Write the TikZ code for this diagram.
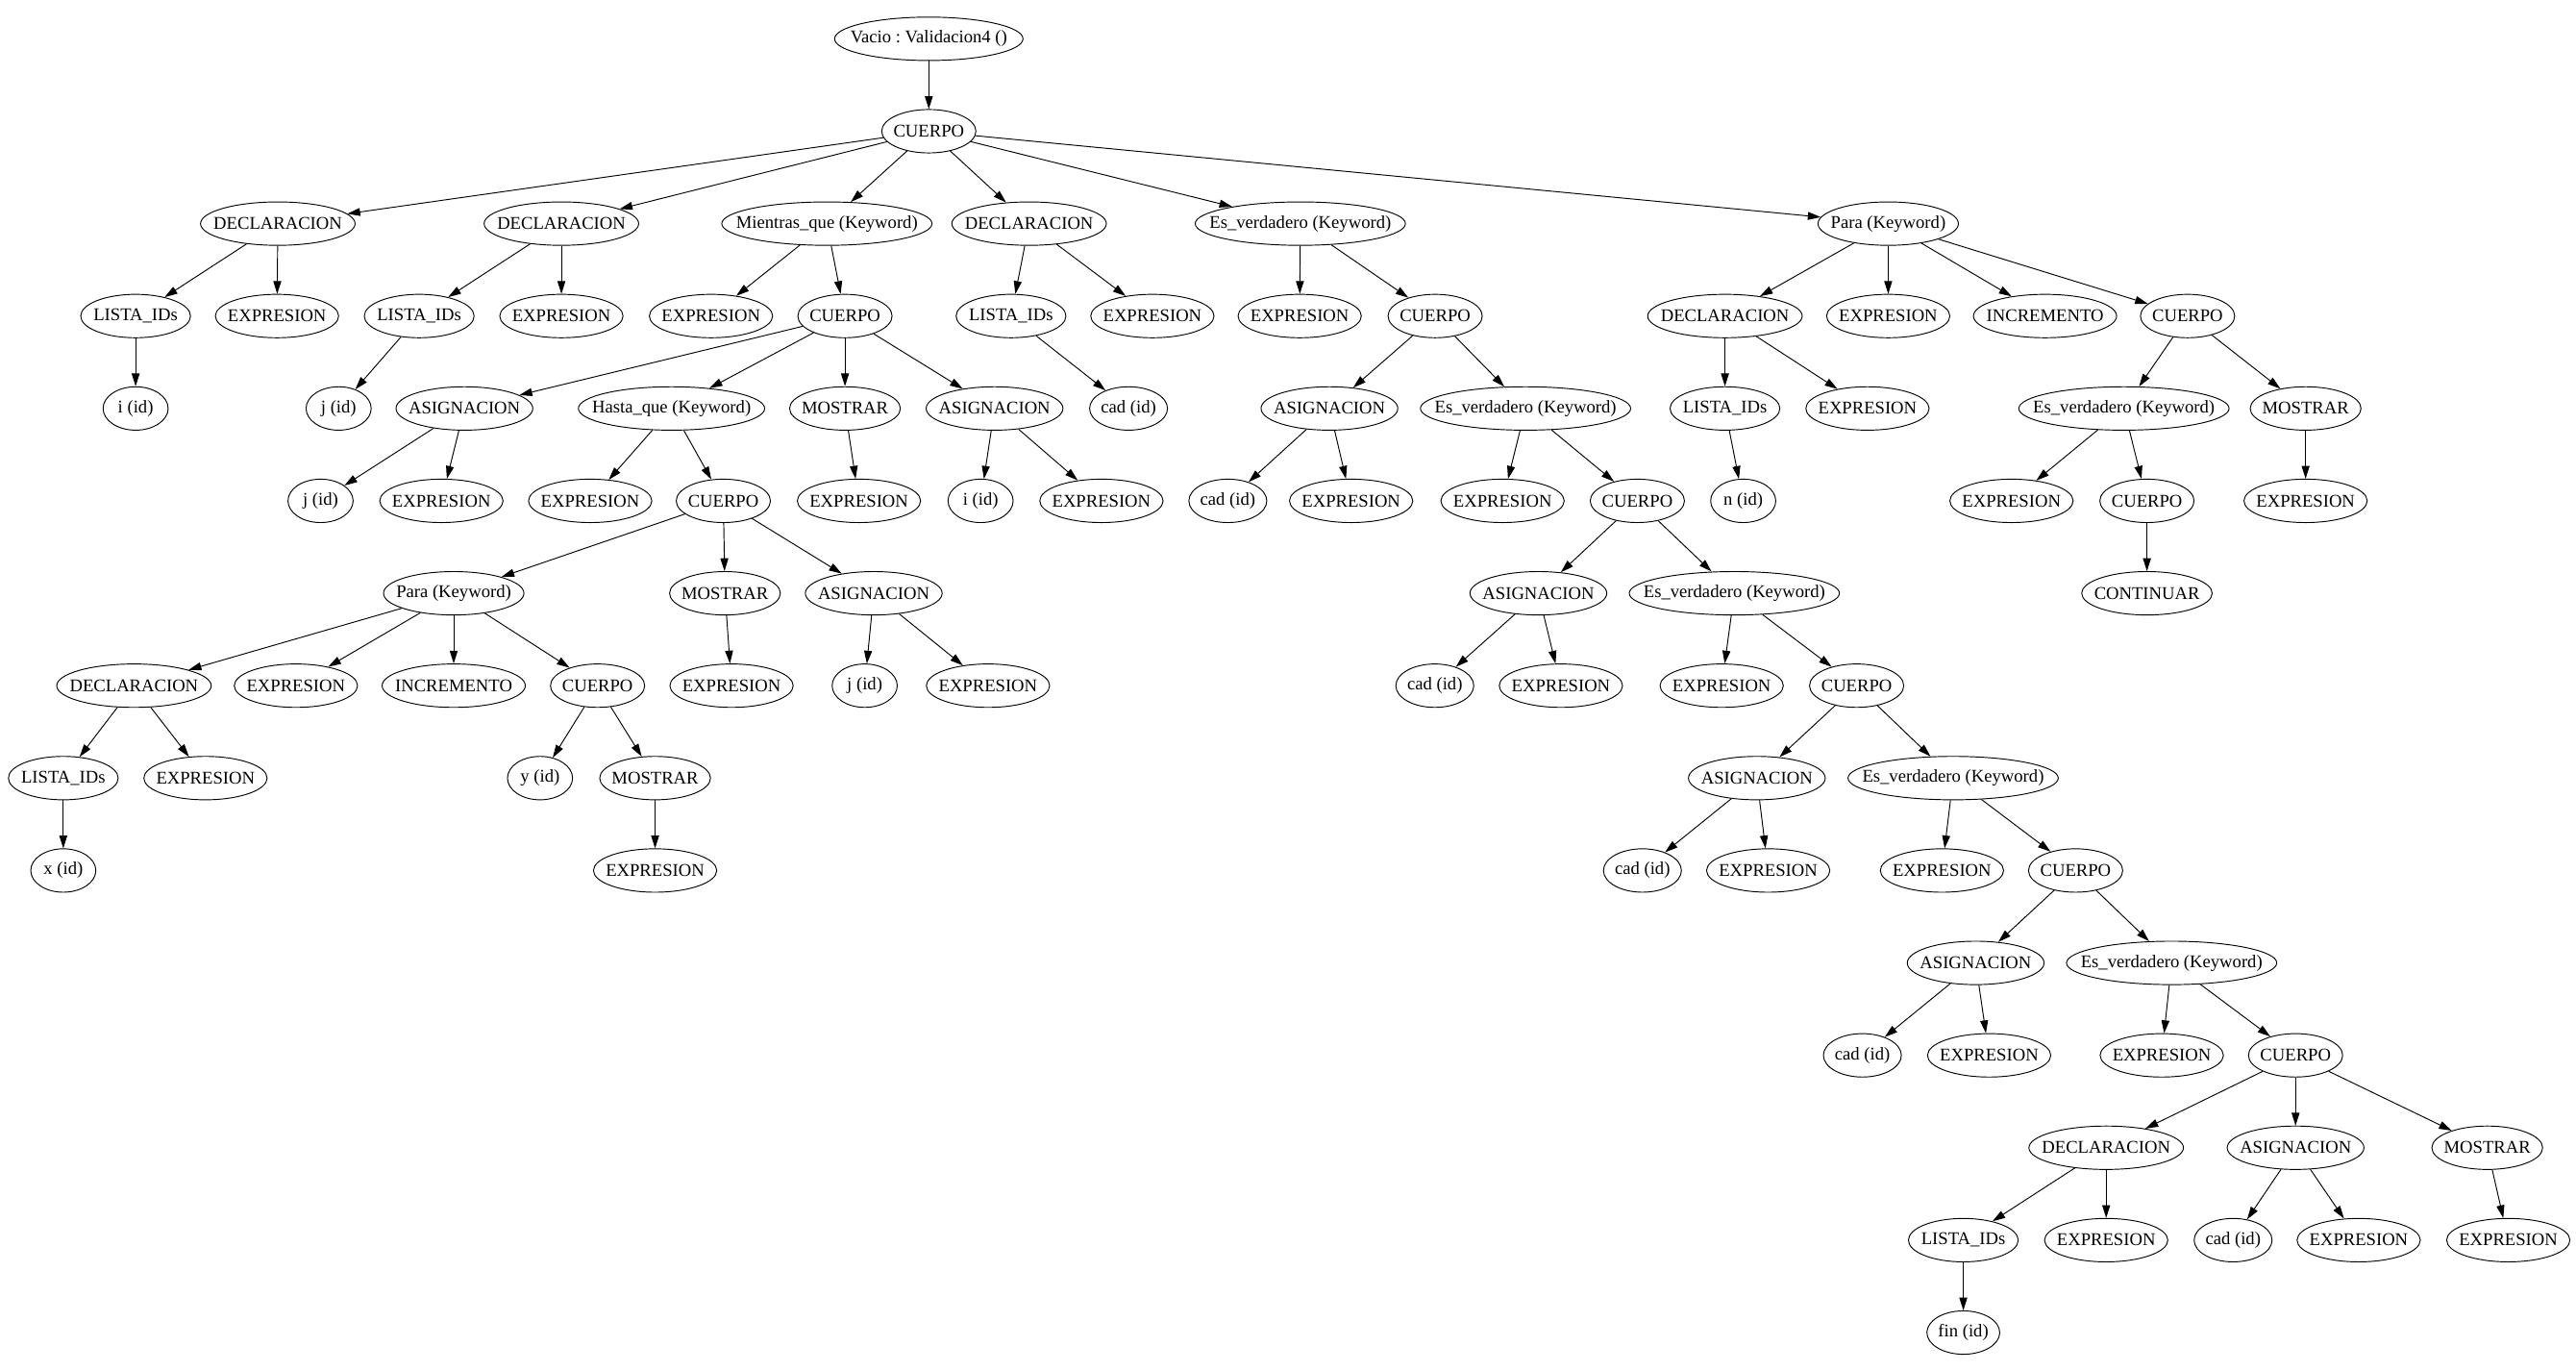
\documentclass[tikz,border=0pt]{standalone}
\usepackage{fontspec}
\setmainfont{Liberation Serif}
\usepackage{tikz}
\usetikzlibrary{arrows.meta,shapes.geometric}
\frenchspacing

\begin{document}
\begin{tikzpicture}[x=1pt,y=-1pt,line width=0.55pt,
  ast/.style={ellipse,draw,inner xsep=-40pt,inner ysep=0pt,minimum height=26.4pt,
    minimum width=#1,font=\fontsize{10.9}{12}\selectfont},
  ast/.default=75,
  edge/.style={-{Triangle[length=7.8pt,width=4.8pt]}}]
  \useasboundingbox (0,0) rectangle (1567,833.2);
  % levels 0-2
  \node[ast=114.6] (root) at (565,23.6) {Vacio : Validacion4 ()};
  \node[ast=57.3] (c0) at (565,79.8) {CUERPO};
  \node[ast=94] (d1) at (169,136) {DECLARACION};
  \node[ast=94] (d2) at (341.5,136) {DECLARACION};
  \node[ast=127.9] (m1) at (503,136) {Mientras\_que (Keyword)};
  \node[ast=94] (d3) at (626,136) {DECLARACION};
  \node[ast=127.9] (ev1) at (791,136) {Es\_verdadero (Keyword)};
  \node[ast=85.4] (p1) at (1148.6,136) {Para (Keyword)};
  % level 3
  \node[ast=66.8] (l1) at (82.5,192.2) {LISTA\_IDs};
  \node[ast] (e1) at (168.5,192.2) {EXPRESION};
  \node[ast=66.8] (l2) at (255,192.2) {LISTA\_IDs};
  \node[ast] (e2) at (341.5,192.2) {EXPRESION};
  \node[ast] (e3) at (432.5,192.2) {EXPRESION};
  \node[ast=57.3] (c1) at (514,192.2) {CUERPO};
  \node[ast=66.8] (l3) at (615,192.2) {LISTA\_IDs};
  \node[ast] (e4) at (701,192.2) {EXPRESION};
  \node[ast] (e5) at (790.6,192.2) {EXPRESION};
  \node[ast=57.3] (c2) at (873,192.2) {CUERPO};
  \node[ast=94] (d4) at (1049.3,192.2) {DECLARACION};
  \node[ast] (e6) at (1148.6,192.2) {EXPRESION};
  \node[ast=87.1] (inc1) at (1244,192.2) {INCREMENTO};
  \node[ast=57.3] (c3) at (1330.7,192.2) {CUERPO};
  % level 4
  \node[ast=39.6] (i1) at (82.5,248.4) {i (id)};
  \node[ast=39.6] (j1) at (206,248.4) {j (id)};
  \node[ast=83.2] (a1) at (282.5,248.4) {ASIGNACION};
  \node[ast=113.3] (h1) at (408.5,248.4) {Hasta\_que (Keyword)};
  \node[ast=67.4] (mo1) at (514,248.4) {MOSTRAR};
  \node[ast=83.2] (a2) at (605,248.4) {ASIGNACION};
  \node[ast=47.4] (cad1) at (686.5,248.4) {cad (id)};
  \node[ast=83.2] (a3) at (808.7,248.4) {ASIGNACION};
  \node[ast=127.9] (ev2) at (928,248.4) {Es\_verdadero (Keyword)};
  \node[ast=66.8] (l4) at (1049.3,248.4) {LISTA\_IDs};
  \node[ast] (e7) at (1136,248.4) {EXPRESION};
  \node[ast=127.9] (ev3) at (1292,248.4) {Es\_verdadero (Keyword)};
  \node[ast=67.4] (mo2) at (1402.5,248.4) {MOSTRAR};
  % level 5
  \node[ast=39.6] (j2) at (195,304.6) {j (id)};
  \node[ast] (e8) at (268.5,304.6) {EXPRESION};
  \node[ast] (e9) at (359,304.6) {EXPRESION};
  \node[ast=57.3] (c4) at (440,304.6) {CUERPO};
  \node[ast] (e10) at (522.5,304.6) {EXPRESION};
  \node[ast=39.6] (i2) at (596.5,304.6) {i (id)};
  \node[ast] (e11) at (670,304.6) {EXPRESION};
  \node[ast=47.4] (cad2) at (746.9,304.6) {cad (id)};
  \node[ast] (e12) at (821.9,304.6) {EXPRESION};
  \node[ast] (e13) at (914,304.6) {EXPRESION};
  \node[ast=57.3] (c5) at (996,304.6) {CUERPO};
  \node[ast=39.6] (n1) at (1060.4,304.6) {n (id)};
  \node[ast] (e14) at (1223.6,304.6) {EXPRESION};
  \node[ast=57.3] (c6) at (1306,304.6) {CUERPO};
  \node[ast] (e15) at (1402.5,304.6) {EXPRESION};
  % level 6
  \node[ast=85.4] (p2) at (276,360.8) {Para (Keyword)};
  \node[ast=67.4] (mo3) at (441,360.8) {MOSTRAR};
  \node[ast=83.2] (a4) at (531.5,360.8) {ASIGNACION};
  \node[ast=83.2] (a5) at (935.8,360.8) {ASIGNACION};
  \node[ast=127.9] (ev4) at (1055,360.8) {Es\_verdadero (Keyword)};
  \node[ast=79.4] (co1) at (1306,360.8) {CONTINUAR};
  % level 7
  \node[ast=94] (d5) at (81.5,417) {DECLARACION};
  \node[ast] (e16) at (180,417) {EXPRESION};
  \node[ast=87.1] (inc2) at (276,417) {INCREMENTO};
  \node[ast=57.3] (c7) at (363.5,417) {CUERPO};
  \node[ast] (e17) at (445,417) {EXPRESION};
  \node[ast=39.6] (j3) at (526,417) {j (id)};
  \node[ast] (e18) at (601,417) {EXPRESION};
  \node[ast=47.4] (cad3) at (872.8,417) {cad (id)};
  \node[ast] (e19) at (949.5,417) {EXPRESION};
  \node[ast] (e20) at (1047.3,417) {EXPRESION};
  \node[ast=57.3] (c8) at (1129.4,417) {CUERPO};
  % level 8
  \node[ast=66.8] (l5) at (38.5,473.2) {LISTA\_IDs};
  \node[ast] (e21) at (125,473.2) {EXPRESION};
  \node[ast=39.6] (y1) at (328.5,473.2) {y (id)};
  \node[ast=67.4] (mo4) at (398.5,473.2) {MOSTRAR};
  \node[ast=83.2] (a6) at (1068.7,473.2) {ASIGNACION};
  \node[ast=127.9] (ev5) at (1188.1,473.2) {Es\_verdadero (Keyword)};
  % level 9
  \node[ast=39.6] (x1) at (38.5,529.4) {x (id)};
  \node[ast] (e22) at (398.5,529.4) {EXPRESION};
  \node[ast=47.4] (cad4) at (999.1,529.4) {cad (id)};
  \node[ast] (e23) at (1075.6,529.4) {EXPRESION};
  \node[ast] (e24) at (1181.3,529.4) {EXPRESION};
  \node[ast=57.3] (c9) at (1262.6,529.4) {CUERPO};
  % levels 10-14
  \node[ast=83.2] (a7) at (1201.8,585.6) {ASIGNACION};
  \node[ast=127.9] (ev6) at (1321,585.6) {Es\_verdadero (Keyword)};
  \node[ast=47.4] (cad5) at (1132.9,641.8) {cad (id)};
  \node[ast] (e25) at (1210,641.8) {EXPRESION};
  \node[ast] (e26) at (1315,641.8) {EXPRESION};
  \node[ast=57.3] (c10) at (1396.4,641.8) {CUERPO};
  \node[ast=94] (d6) at (1281.2,698) {DECLARACION};
  \node[ast=83.2] (a8) at (1396.4,698) {ASIGNACION};
  \node[ast=67.4] (mo5) at (1513,698) {MOSTRAR};
  \node[ast=66.8] (l6) at (1194.3,754.2) {LISTA\_IDs};
  \node[ast] (e27) at (1281.2,754.2) {EXPRESION};
  \node[ast=47.4] (cad6) at (1358.4,754.2) {cad (id)};
  \node[ast] (e28) at (1434.8,754.2) {EXPRESION};
  \node[ast] (e29) at (1525.8,754.2) {EXPRESION};
  \node[ast=44.3] (fin1) at (1194.3,810.4) {fin (id)};
  % edges
  \foreach \a/\b in {root/c0,c0/d1,c0/d2,c0/m1,c0/d3,c0/ev1,c0/p1,
      d1/l1,d1/e1,l1/i1,d2/l2,d2/e2,l2/j1,m1/e3,m1/c1,
      c1/a1,c1/h1,c1/mo1,c1/a2,a1/j2,a1/e8,h1/e9,h1/c4,mo1/e10,a2/i2,a2/e11,
      c4/p2,c4/mo3,c4/a4,p2/d5,p2/e16,p2/inc2,p2/c7,d5/l5,d5/e21,l5/x1,
      c7/y1,c7/mo4,mo4/e22,mo3/e17,a4/j3,a4/e18,
      d3/l3,d3/e4,l3/cad1,ev1/e5,ev1/c2,c2/a3,c2/ev2,a3/cad2,a3/e12,
      ev2/e13,ev2/c5,c5/a5,c5/ev4,a5/cad3,a5/e19,ev4/e20,ev4/c8,
      c8/a6,c8/ev5,a6/cad4,a6/e23,ev5/e24,ev5/c9,c9/a7,c9/ev6,
      a7/cad5,a7/e25,ev6/e26,ev6/c10,c10/d6,c10/a8,c10/mo5,
      d6/l6,d6/e27,l6/fin1,a8/cad6,a8/e28,mo5/e29,
      p1/d4,p1/e6,p1/inc1,p1/c3,d4/l4,d4/e7,l4/n1,
      c3/ev3,c3/mo2,ev3/e14,ev3/c6,c6/co1,mo2/e15}
    \draw[edge] (\a) -- (\b);
\end{tikzpicture}
\end{document}
